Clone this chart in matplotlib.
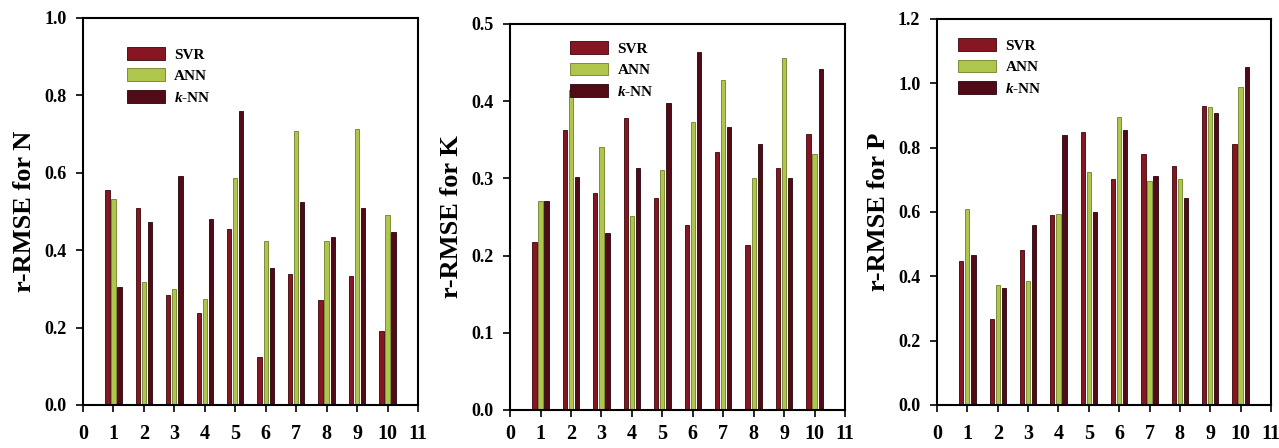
import numpy as np
import matplotlib
matplotlib.use('Agg')
import matplotlib.pyplot as plt
from matplotlib.ticker import FormatStrFormatter

plt.rcParams['font.family'] = ['Liberation Serif', 'DejaVu Serif']
plt.rcParams['font.weight'] = 'bold'
plt.rcParams['mathtext.fontset'] = 'custom'
plt.rcParams['mathtext.rm'] = 'Liberation Serif:bold'
plt.rcParams['mathtext.bf'] = 'Liberation Serif:bold'
plt.rcParams['mathtext.it'] = 'Liberation Serif:italic:bold'
plt.rcParams['mathtext.bfit'] = 'Liberation Serif:italic:bold'

# data
cases = [1, 2, 3, 4, 5, 6, 7, 8, 9, 10]
models = ['SVR', 'ANN', r'$\mathbfit{k}$-NN']

svr_N = [0.556, 0.509, 0.283, 0.237, 0.454, 0.125, 0.338, 0.270, 0.334, 0.191]
ann_N = [0.533, 0.319, 0.299, 0.275, 0.586, 0.424, 0.709, 0.424, 0.713, 0.491]
knn_N = [0.306, 0.472, 0.591, 0.480, 0.760, 0.353, 0.524, 0.433, 0.509, 0.447]

svr_K = [0.218, 0.363, 0.281, 0.378, 0.275, 0.239, 0.334, 0.214, 0.314, 0.357]
ann_K = [0.270, 0.415, 0.341, 0.251, 0.311, 0.373, 0.428, 0.301, 0.456, 0.332]
knn_K = [0.271, 0.302, 0.229, 0.313, 0.398, 0.464, 0.366, 0.345, 0.300, 0.442]

svr_P = [0.449, 0.267, 0.482, 0.591, 0.848, 0.703, 0.780, 0.744, 0.930, 0.811]
ann_P = [0.610, 0.373, 0.387, 0.593, 0.723, 0.895, 0.695, 0.702, 0.926, 0.990]
knn_P = [0.466, 0.363, 0.560, 0.840, 0.601, 0.856, 0.712, 0.645, 0.908, 1.050]

colors = ['#861722', '#aec64c', '#520a16']
edges = ['#3a0508', '#6f7f2a', '#25030a']

# label, series, ymax, ystep, axes rect, legend anchor, x tick pad
panels = [
    ('r-RMSE for N', [svr_N, ann_N, knn_N], 1.0, 0.2, [0.0649, 0.096, 0.2619, 0.864], (0.131, 0.925), 9),
    ('r-RMSE for K', [svr_K, ann_K, knn_K], 0.5, 0.1, [0.3988, 0.085, 0.2619, 0.8616], (0.179, 0.955), 5),
    ('r-RMSE for P', [svr_P, ann_P, knn_P], 1.2, 0.2, [0.7326, 0.096, 0.2611, 0.8616], (0.063, 0.950), 9),
]

fig = plt.figure(figsize=(12.79, 4.48), dpi=100)
x = np.array(cases)
offsets = [-0.2, 0.0, 0.2]
width = 0.14

for ylabel, series, ymax, ystep, rect, leg_pos, xpad in panels:
    ax = fig.add_axes(rect)
    for vals, off, c, ec, name in zip(series, offsets, colors, edges, models):
        ax.bar(x + off, vals, width, color=c, edgecolor=ec, linewidth=0.6, label=name)
    ax.set_xlim(0, 11)
    ax.set_ylim(0, ymax)
    ax.set_xticks(range(0, 12))
    ax.set_yticks(np.arange(0, ymax + ystep / 2, ystep))
    ax.yaxis.set_major_formatter(FormatStrFormatter('%.1f'))
    ax.tick_params(axis='x', direction='out', length=5, width=1.2, pad=xpad, labelsize=14.5)
    ax.tick_params(axis='y', direction='out', length=5, width=1.2, pad=7, labelsize=13)
    for s in ax.spines.values():
        s.set_linewidth(1.5)
    ax.set_ylabel(ylabel, fontsize=19, fontweight='bold', labelpad=6)
    leg = ax.legend(loc='upper left', bbox_to_anchor=leg_pos, frameon=False,
                    fontsize=11, handlelength=2.5, handleheight=0.9,
                    handletextpad=0.6, labelspacing=0.45, borderpad=0, borderaxespad=0)
    leg.set_zorder(5)

fig.savefig('out.png', dpi=100)
